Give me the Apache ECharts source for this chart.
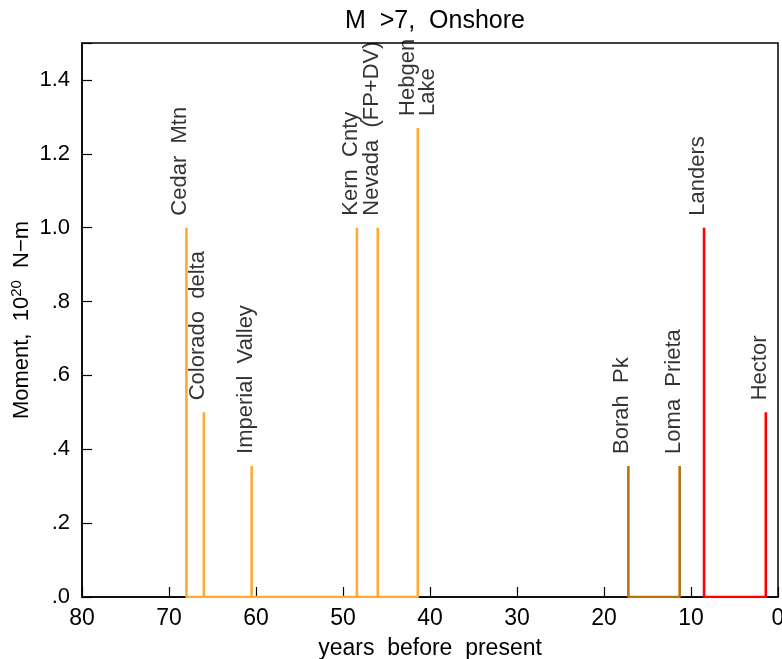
<!DOCTYPE html>
<html lang="en">
<head>
    <meta charset="UTF-8">
    <title>M >7, Onshore</title>
    <script src="https://cdn.jsdelivr.net/npm/echarts@6/dist/echarts.min.js"></script>
    <style>
        html, body { margin: 0; padding: 0; background: #fff; }
    </style>
</head>
<body>
    <div id="chart" style="width: 782px; height: 659px;"></div>
    <script type="text/javascript">
        // Events: years before present, moment (1e20 N-m), name, colour group
        const years = [68, 66, 60.5, 48.4, 46, 41.4, 17.2, 11.3, 8.5, 1.4];
        const moments = [1.0, 0.5, 0.355, 1.0, 1.0, 1.27, 0.355, 0.355, 1.0, 0.5];
        const names = ['Cedar Mtn', 'Colorado delta', 'Imperial Valley', 'Kern Cnty', 'Nevada (FP+DV)',
            'Hebgen\nLake', 'Borah Pk', 'Loma Prieta', 'Landers', 'Hector'];
        const groups = [0, 0, 0, 0, 0, 0, 1, 1, 2, 2];
        const groupColors = ['#FFAA33', '#B8730F', '#FF0000'];

        const font = 'Liberation Sans';
        const chart = echarts.init(document.getElementById('chart'));

        // spike path for each colour group: up and back down, joined along the baseline
        const lineSeries = groupColors.map((color, g) => {
            const path = [];
            years.forEach((y, i) => {
                if (groups[i] !== g) return;
                path.push([y, 0], [y, moments[i]], [y, 0]);
            });
            return {
                type: 'line',
                data: path,
                symbol: 'none',
                silent: true,
                lineStyle: { color: color, width: 2.6 },
                z: 3
            };
        });

        const labelSeries = {
            type: 'scatter',
            symbolSize: 0,
            silent: true,
            data: years.map((y, i) => ({
                value: [y, moments[i]],
                name: names[i],
                label: names[i].indexOf('\n') >= 0 ? { verticalAlign: 'middle', offset: [0, 0] } : undefined
            })),
            label: {
                show: true,
                position: 'top',
                distance: 12,
                rotate: 90,
                align: 'left',
                verticalAlign: 'bottom',
                offset: [0, 4],
                formatter: p => p.name.replace(/ /g, '  '),
                color: '#000',
                fontFamily: font,
                fontSize: 22,
                lineHeight: 20
            },
            z: 4
        };

        chart.setOption({
            animation: false,
            title: {
                text: 'M  >7,  Onshore',
                left: 430,
                textAlign: 'center',
                top: 4,
                textStyle: { fontFamily: font, fontSize: 25, fontWeight: 'normal', color: '#000' }
            },
            grid: {
                left: 82, right: 4, top: 43, bottom: 62,
                outerBoundsMode: 'none', containLabel: false,
                show: true, borderColor: '#000', borderWidth: 1.5
            },
            xAxis: {
                type: 'value',
                inverse: true,
                min: 0,
                max: 80,
                interval: 10,
                name: 'years  before  present',
                nameLocation: 'middle',
                nameGap: 40,
                nameMoveOverlap: false,
                nameTextStyle: { fontFamily: font, fontSize: 23, color: '#000' },
                axisLine: { show: true, onZero: false, lineStyle: { color: '#000', width: 1.5 } },
                axisTick: { show: true, inside: true, length: 10, lineStyle: { color: '#000', width: 1.2 } },
                axisLabel: { fontFamily: font, fontSize: 23, color: '#000', margin: 10, hideOverlap: false },
                splitLine: { show: false }
            },
            yAxis: {
                type: 'value',
                min: 0,
                max: 1.5,
                interval: 0.2,
                name: 'Moment,  10{sup|20}  N\u2212m',
                nameLocation: 'middle',
                nameGap: 48,
                nameMoveOverlap: false,
                nameTextStyle: {
                    fontFamily: font, fontSize: 22, color: '#000',
                    rich: { sup: { fontFamily: font, fontSize: 15, color: '#000', verticalAlign: 'bottom', padding: [0, 0, 10, 0] } }
                },
                axisLine: { show: true, onZero: false, lineStyle: { color: '#000', width: 1.5 } },
                axisTick: { show: true, inside: true, length: 10, lineStyle: { color: '#000', width: 1.2 } },
                axisLabel: {
                    fontFamily: font, fontSize: 22, color: '#000', margin: 12,
                    formatter: v => v > 1.45 ? '' : (v < 1 ? '.' + Math.round(v * 10) : v.toFixed(1))
                },
                splitLine: { show: false }
            },
            series: lineSeries.concat([labelSeries])
        });
    </script>
</body>
</html>
